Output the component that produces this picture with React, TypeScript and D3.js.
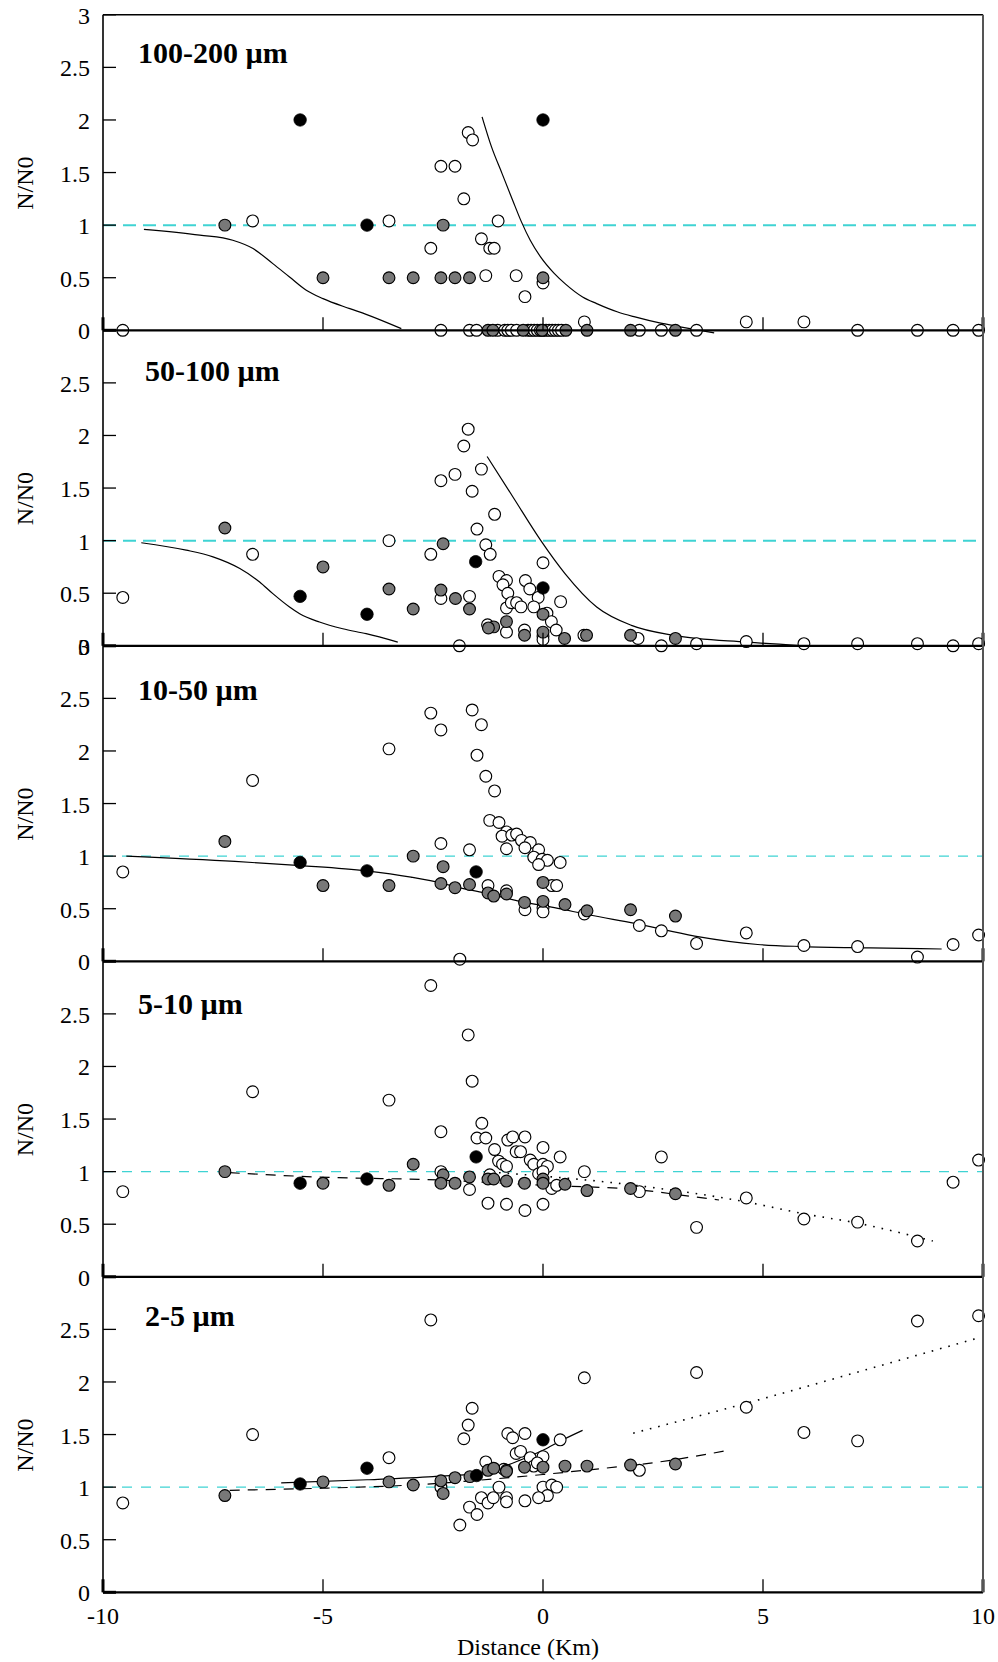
import React from 'react';
import * as d3 from 'd3';

type Pt = [number, number];

// ---------- data ----------
const xTickValues = [-10, -5, 0, 5, 10];
const yTickValues = [0, 0.5, 1, 1.5, 2, 2.5];
const panelLabels = ['100-200 µm', '50-100 µm', '10-50 µm', '5-10 µm', '2-5 µm'];
const panelShowsThree = [true, false, true, false, false];

// Panel 1: 100-200 µm
const open1: Pt[] = [
  [-9.55, 0], [-6.6, 1.04], [-3.5, 1.04], [-2.55, 0.78], [-2.32, 1.56], [-2.0, 1.56], [-1.8, 1.25],
  [-1.7, 1.88], [-1.6, 1.81], [-1.4, 0.87], [-1.3, 0.52], [-1.21, 0.78], [-1.11, 0.78], [-1.02, 1.04],
  [-0.61, 0.52], [-0.41, 0.32], [0, 0.45], [0.94, 0.08], [4.62, 0.08], [5.93, 0.08],
  [-2.32, 0], [-1.67, 0], [-1.51, 0], [-1.03, 0], [-0.87, 0], [-0.8, 0], [-0.72, 0], [-0.6, 0],
  [-0.34, 0], [-0.27, 0], [-0.2, 0], [-0.13, 0], [-0.06, 0], [0, 0], [0.07, 0], [0.14, 0], [0.21, 0],
  [0.28, 0], [0.35, 0], [0.42, 0], [2.19, 0], [2.69, 0], [3.49, 0], [7.15, 0], [8.51, 0], [9.32, 0], [9.9, 0],
];
const gray1: Pt[] = [
  [-7.23, 1], [-5, 0.5], [-3.5, 0.5], [-2.95, 0.5], [-2.32, 0.5], [-2.27, 1.0], [-2.0, 0.5], [-1.67, 0.5],
  [0, 0.5], [-1.25, 0], [-1.14, 0], [-0.45, 0], [-0.02, 0], [0.52, 0], [1.0, 0], [1.99, 0], [3.01, 0],
];
const black1: Pt[] = [[-5.52, 2], [-4, 1], [0, 2]];
const curve1a: Pt[] = [
  [-9.07, 0.96], [-7.8, 0.905], [-7.05, 0.856], [-6.59, 0.777], [-6.14, 0.634], [-5.76, 0.507],
  [-5.38, 0.381], [-5.0, 0.301], [-4.39, 0.206], [-4.02, 0.152], [-3.22, 0.016],
];
const curve1b: Pt[] = [
  [-1.385, 2.03], [-1.17, 1.744], [-0.93, 1.49], [-0.69, 1.237], [-0.49, 1.031], [-0.29, 0.856],
  [-0.056, 0.698], [0.26, 0.539], [0.5, 0.444], [0.9, 0.317], [1.22, 0.254], [1.7, 0.174],
  [2.09, 0.127], [2.65, 0.07], [3.05, 0.038], [3.89, -0.025],
];

// Panel 2: 50-100 µm
const open2: Pt[] = [
  [-9.55, 0.46], [-6.6, 0.87], [-3.5, 1.0], [-2.55, 0.87], [-2.32, 1.57], [-2.32, 0.45], [-2.0, 1.63],
  [-1.8, 1.9], [-1.7, 2.06], [-1.61, 1.47], [-1.67, 0.47], [-1.9, 0.0], [-1.4, 1.68], [-1.5, 1.11],
  [-1.3, 0.96], [-1.2, 0.87], [-1.1, 1.25], [0, 0.79], [-1.0, 0.66], [-0.83, 0.62], [-0.4, 0.62],
  [-0.91, 0.58], [-0.3, 0.54], [-0.8, 0.5], [-0.11, 0.46], [0.4, 0.42], [-0.83, 0.36], [-0.72, 0.41],
  [-0.6, 0.41], [-0.5, 0.37], [-0.21, 0.37], [0.09, 0.31], [0.19, 0.23], [0.3, 0.15], [-0.83, 0.13],
  [-1.26, 0.2], [-0.42, 0.15], [0, 0.09], [0, 0.06], [0.93, 0.1], [2.16, 0.07], [2.69, 0.0], [3.49, 0.02],
  [4.62, 0.04], [5.93, 0.02], [7.15, 0.02], [8.51, 0.02], [9.32, 0.0], [9.9, 0.02],
];
const gray2: Pt[] = [
  [-7.23, 1.12], [-5.0, 0.75], [-3.5, 0.54], [-2.95, 0.35], [-2.27, 0.97], [-2.32, 0.53], [-1.99, 0.45],
  [-1.67, 0.35], [-1.12, 0.18], [-1.24, 0.17], [-0.83, 0.23], [-0.42, 0.1], [0, 0.3], [0, 0.13],
  [0.49, 0.07], [0.99, 0.1], [1.99, 0.1], [3.01, 0.07],
];
const black2: Pt[] = [[-5.52, 0.47], [-4.0, 0.3], [-1.53, 0.8], [0, 0.55]];
const curve2a: Pt[] = [
  [-9.13, 0.98], [-8.11, 0.91], [-7.5, 0.846], [-6.89, 0.735], [-6.44, 0.607], [-6.14, 0.496],
  [-5.76, 0.369], [-5.53, 0.305], [-5.08, 0.226], [-4.55, 0.162], [-4.02, 0.115], [-3.3, 0.035],
];
const curve2b: Pt[] = [
  [-1.27, 1.8], [-0.69, 1.42], [-0.056, 1.005], [0.5, 0.687], [1.22, 0.369], [2.01, 0.194],
  [2.97, 0.099], [4.64, 0.035], [5.84, 0.003],
];

// Panel 3: 10-50 µm
const open3: Pt[] = [
  [-9.55, 0.85], [-6.6, 1.72], [-3.5, 2.02], [-2.55, 2.36], [-2.32, 2.2], [-2.32, 1.12], [-1.89, 0.02],
  [-1.67, 1.06], [-1.61, 2.39], [-1.4, 2.25], [-1.5, 1.96], [-1.3, 1.76], [-1.1, 1.62], [-1.21, 1.34],
  [-1.0, 1.32], [-0.83, 1.23], [-0.93, 1.19], [-0.71, 1.2], [-0.6, 1.21], [-0.49, 1.15], [-0.29, 1.13],
  [-0.41, 1.08], [-0.83, 1.07], [-0.1, 1.06], [-0.21, 0.99], [-0.02, 0.97], [0.1, 0.96], [-0.1, 0.92],
  [0.39, 0.94], [-1.25, 0.72], [-0.83, 0.67], [0.2, 0.72], [0.31, 0.72], [-0.41, 0.49], [0, 0.51],
  [0, 0.47], [0.94, 0.45], [2.19, 0.34], [2.69, 0.29], [3.49, 0.17], [4.62, 0.27], [5.93, 0.15],
  [7.15, 0.14], [8.51, 0.04], [9.32, 0.16], [9.9, 0.25],
];
const gray3: Pt[] = [
  [-7.23, 1.14], [-5.0, 0.72], [-3.5, 0.72], [-2.95, 1.0], [-2.27, 0.9], [-2.32, 0.74], [-2.0, 0.7],
  [-1.67, 0.73], [-1.25, 0.65], [-1.12, 0.62], [-0.83, 0.64], [0, 0.75], [-0.42, 0.56], [0, 0.57],
  [0.5, 0.54], [1.0, 0.48], [1.99, 0.49], [3.01, 0.43],
];
const black3: Pt[] = [[-5.52, 0.94], [-4.0, 0.86], [-1.52, 0.85]];
const curve3: Pt[] = [
  [-9.47, 1.0], [-7, 0.95], [-5.5, 0.91], [-4.02, 0.86], [-3, 0.8], [-2.27, 0.74], [-2.0, 0.71],
  [-1.33, 0.65], [-0.53, 0.57], [0.26, 0.51], [1.06, 0.44], [2.09, 0.36], [3.45, 0.24], [4.88, 0.16],
  [5.92, 0.14], [7.43, 0.127], [9.06, 0.117],
];

// Panel 4: 5-10 µm
const open4: Pt[] = [
  [-9.55, 0.81], [-6.6, 1.76], [-3.5, 1.68], [-2.55, 2.77], [-2.32, 1.38], [-2.32, 1.0], [-1.7, 2.3],
  [-1.61, 1.86], [-1.39, 1.46], [-1.5, 1.32], [-1.3, 1.32], [-1.67, 0.83], [-1.25, 0.7], [-1.21, 0.97],
  [-1.1, 1.21], [-0.8, 1.3], [-0.69, 1.33], [-0.41, 1.33], [-0.61, 1.19], [-0.51, 1.19], [0, 1.23],
  [0.39, 1.14], [-1.01, 1.1], [-0.92, 1.07], [-0.83, 1.05], [-0.29, 1.11], [-0.21, 1.07], [0, 1.07],
  [0.1, 1.05], [-0.1, 0.98], [0, 1.0], [0.94, 1.0], [2.69, 1.14], [9.9, 1.11], [0.2, 0.84], [0.31, 0.87],
  [2.19, 0.81], [4.62, 0.75], [3.49, 0.47], [5.93, 0.55], [7.15, 0.52], [8.51, 0.34], [9.32, 0.9],
  [-0.83, 0.69], [-0.41, 0.63], [0, 0.69],
];
const gray4: Pt[] = [
  [-7.23, 1.0], [-5.0, 0.89], [-3.5, 0.87], [-2.95, 1.07], [-2.27, 0.97], [-2.32, 0.89], [-2.0, 0.89],
  [-1.67, 0.95], [-1.25, 0.93], [-1.12, 0.93], [-0.83, 0.91], [-0.42, 0.89], [0, 0.93], [0, 0.89],
  [0.5, 0.88], [1.0, 0.82], [1.99, 0.84], [3.01, 0.79],
];
const black4: Pt[] = [[-5.52, 0.89], [-4.0, 0.93], [-1.52, 1.14]];
const dashed4: Pt[] = [
  [-7.12, 0.99], [-5.2, 0.95], [-2.35, 0.92], [0, 0.87], [2.09, 0.83], [3.45, 0.76], [4.0, 0.73],
];
const dotted4: Pt[] = [
  [-1.0, 0.99], [2.09, 0.87], [4.64, 0.71], [5.92, 0.6], [7.15, 0.51], [8.86, 0.34],
];

// Panel 5: 2-5 µm
const open5: Pt[] = [
  [-9.55, 0.85], [-6.6, 1.5], [-3.5, 1.28], [-2.55, 2.59], [-2.32, 1.0], [-1.89, 0.64], [-1.8, 1.46],
  [-1.7, 1.59], [-1.61, 1.75], [-1.67, 0.81], [-1.5, 0.74], [-1.3, 1.24], [-1.4, 0.9], [-1.25, 0.85],
  [-1.13, 0.9], [-0.8, 1.51], [-0.69, 1.47], [-0.41, 1.51], [0.39, 1.45], [-0.61, 1.32], [-0.51, 1.34],
  [0, 1.29], [-0.29, 1.28], [-0.89, 1.17], [-0.21, 1.2], [-0.13, 1.23], [2.19, 1.16], [-1.0, 1.0],
  [0, 1.0], [0.2, 1.02], [0.31, 1.0], [0.1, 0.92], [-0.1, 0.9], [-0.41, 0.87], [-0.83, 0.9],
  [-0.83, 0.86], [0.94, 2.04], [3.49, 2.09], [4.62, 1.76], [5.93, 1.52], [7.15, 1.44], [8.51, 2.58],
  [9.9, 2.63],
];
const gray5: Pt[] = [
  [-7.23, 0.92], [-5.0, 1.05], [-3.5, 1.05], [-2.95, 1.02], [-2.32, 1.06], [-2.27, 0.94], [-2.0, 1.09],
  [-1.66, 1.1], [-1.25, 1.16], [-1.12, 1.18], [-0.83, 1.16], [-0.83, 1.15], [-0.42, 1.19], [0, 1.19],
  [0.5, 1.2], [1.0, 1.2], [1.99, 1.21], [3.01, 1.22],
];
const black5: Pt[] = [[-5.52, 1.03], [-4.0, 1.18], [-1.51, 1.11], [0, 1.45]];
const solid5: Pt[] = [
  [-5.95, 1.04], [-4, 1.07], [-2.5, 1.1], [-1.5, 1.13], [-1, 1.18], [-0.5, 1.26], [0, 1.35],
  [0.45, 1.45], [0.9, 1.54],
];
const dashed5: Pt[] = [
  [-7.12, 0.97], [-5, 0.99], [-3, 1.02], [-1.17, 1.076], [0, 1.12], [1.06, 1.165], [2.65, 1.24], [4.28, 1.355],
];
const dotted5: Pt[] = [[2.05, 1.513], [4.64, 1.8], [7.2, 2.1], [9.86, 2.415]];

const panels = [
  { open: open1, gray: gray1, black: black1, solid: [curve1a, curve1b], dashed: [] as Pt[][], dotted: [] as Pt[][] },
  { open: open2, gray: gray2, black: black2, solid: [curve2a, curve2b], dashed: [] as Pt[][], dotted: [] as Pt[][] },
  { open: open3, gray: gray3, black: black3, solid: [curve3], dashed: [] as Pt[][], dotted: [] as Pt[][] },
  { open: open4, gray: gray4, black: black4, solid: [] as Pt[][], dashed: [dashed4], dotted: [dotted4] },
  { open: open5, gray: gray5, black: black5, solid: [solid5], dashed: [dashed5], dotted: [dotted5] },
];

// ---------- layout ----------
const W = 998;
const H = 1662;
const X0 = 103;
const X1 = 983;
const TOP = 14.8;
const PH = 315.5;
const FONT = '"Liberation Serif", "Times New Roman", Times, serif';
const labelBaselines = [63, 381, 700, 1014, 1326];
const labelX = [138, 145, 138, 138, 145];
const R = 5.9;

export default function App() {
  const x = d3.scaleLinear().domain([-10, 10]).range([X0, X1]);
  const bottom = TOP + PH * 5;

  return (
    <svg width={W} height={H} style={{ position: 'absolute', left: 0, top: 0, background: '#fff' }}
      fontFamily={FONT}>
      <rect x={0} y={0} width={W} height={H} fill="#fff" />
      {panels.map((p, i) => {
        const y = d3.scaleLinear().domain([0, 3]).range([TOP + PH * (i + 1), TOP + PH * i]);
        const line = d3.line<Pt>().x((d) => x(d[0])).y((d) => y(d[1])).curve(d3.curveMonotoneX);
        const thickCyan = i < 2;
        const ticks = panelShowsThree[i] ? [...yTickValues, 3] : yTickValues;
        return (
          <g key={i}>
            <line x1={X0} x2={X1} y1={y(1)} y2={y(1)} stroke="#3fd3d3"
              strokeWidth={thickCyan ? 2 : 1.3} strokeDasharray={thickCyan ? '13 7' : '10 9'} />
            {p.solid.map((c, k) => (
              <path key={'s' + k} d={line(c) || ''} fill="none" stroke="#000" strokeWidth={1.2} />
            ))}
            {p.dashed.map((c, k) => (
              <path key={'d' + k} d={line(c) || ''} fill="none" stroke="#000" strokeWidth={1.2} strokeDasharray="10 8" />
            ))}
            {p.dotted.map((c, k) => (
              <path key={'o' + k} d={line(c) || ''} fill="none" stroke="#000" strokeWidth={1.6} strokeDasharray="1.6 7" />
            ))}
            {p.open.map((d, k) => (
              <circle key={'po' + k} cx={x(d[0])} cy={y(d[1])} r={R} fill="#fff" stroke="#000" strokeWidth={1.15} />
            ))}
            {p.gray.map((d, k) => (
              <circle key={'pg' + k} cx={x(d[0])} cy={y(d[1])} r={R} fill="#787878" stroke="#000" strokeWidth={1.15} />
            ))}
            {p.black.map((d, k) => (
              <circle key={'pb' + k} cx={x(d[0])} cy={y(d[1])} r={R + 0.3} fill="#000" stroke="#000" strokeWidth={0.8} />
            ))}
            <line x1={X0} x2={X1} y1={y(0)} y2={y(0)} stroke="#000" strokeWidth={2.2} />
            {xTickValues.map((t) => (
              <line key={'xt' + t} x1={x(t)} x2={x(t)} y1={y(0)} y2={y(0) - 13} stroke="#000"
                strokeWidth={t === -10 || t === 10 ? 3 : 1.3} />
            ))}
            {ticks.map((t) => (
              <g key={'yt' + t}>
                <line x1={X0} x2={X0 + 13} y1={y(t)} y2={y(t)} stroke="#000" strokeWidth={t === 0 ? 3 : 1.3} />
                <text x={90} y={y(t) + 9} textAnchor="end" fontSize={24} fill="#000">{String(t)}</text>
              </g>
            ))}
            <text transform={`translate(33,${y(1.4)}) rotate(-90)`} textAnchor="middle" fontSize={24} fill="#000">N/N0</text>
            <text x={labelX[i]} y={labelBaselines[i]} fontSize={30} fontWeight="bold" fill="#000">{panelLabels[i]}</text>
          </g>
        );
      })}
      <line x1={X0} x2={X1} y1={TOP} y2={TOP} stroke="#000" strokeWidth={1.6} />
      <line x1={X0} x2={X0} y1={TOP} y2={bottom} stroke="#000" strokeWidth={1.6} />
      <line x1={X1} x2={X1} y1={TOP} y2={bottom} stroke="#555" strokeWidth={2} />
      {xTickValues.map((t) => (
        <text key={'xl' + t} x={x(t)} y={1624} textAnchor="middle" fontSize={24} fill="#000">{String(t)}</text>
      ))}
      <text x={457} y={1655} fontSize={24} fill="#000">Distance (Km)</text>
    </svg>
  );
}
